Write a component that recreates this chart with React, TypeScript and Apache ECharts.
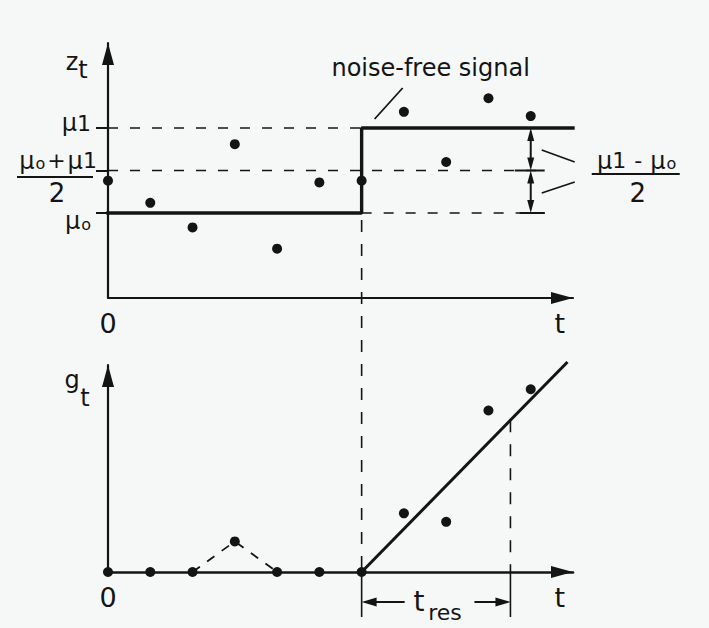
import React, { useEffect, useRef } from "react";
import * as echarts from "echarts";

// Sampling instants t = 0..10
const TIMES = [0, 1, 2, 3, 4, 5, 6, 7, 8, 9, 10];
// Noisy observations z_t (in units where mu0 = 0, mu1 = 1)
const Z_VALUES = [0.38, 0.12, -0.17, 0.81, -0.42, 0.36, 0.38, 1.19, 0.6, 1.35, 1.14];
// CUSUM statistic g_t
const G_VALUES = [0, 0, 0, 0.36, 0, 0, 0, 0.69, 0.59, 1.9, 2.15];

const MU0 = 0;
const MU1 = 1;
const MID = (MU0 + MU1) / 2;
const STEP_T = 6;
const T_MAX = 11;
const SIGNAL = [
  [0, MU0],
  [STEP_T, MU0],
  [STEP_T, MU1],
  [T_MAX, MU1],
];
// fitted growth of g_t after the change
const TREND = [
  [STEP_T, 0],
  [10.87, 2.47],
];
const ALARM_T = 9.52;
const SPREAD_T = 10;
const GUIDE_END_T = 10.33;

const X_LABEL_VALUES = [0, 10.69];
const X_LABELS = ["0", "t"];

const INK = "#141414";
const BG = "#f6f8f8";
const FONT = '"DejaVu Sans", "Liberation Sans", sans-serif';

// rich-text styles: mu with a small "o" or a regular "1" after it
const RICH = {
  m: { fontSize: 24, fontFamily: FONT, color: INK },
  n: { fontSize: 22, fontFamily: FONT, color: INK },
  o: { fontSize: 16, fontFamily: FONT, color: INK, verticalAlign: "bottom", padding: [0, 0, 1, 1] },
  p: { fontSize: 22, fontFamily: FONT, color: INK, padding: [0, 2, 0, 2] },
  q: { fontSize: 22, fontFamily: FONT, color: INK, padding: [0, 8, 0, 8] },
};

function trendAt(t: number): number {
  const [a, b] = TREND;
  return a[1] + ((t - a[0]) * (b[1] - a[1])) / (b[0] - a[0]);
}

export default function App() {
  const ref = useRef<HTMLDivElement>(null);

  useEffect(() => {
    document.body.style.margin = "0";
    document.body.style.background = BG;
    const chart = echarts.init(ref.current!, null, { renderer: "svg" });

    const arrowLine = {
      onZero: false,
      symbol: ["none", "triangle"],
      symbolSize: [12, 22],
      symbolOffset: [0, -11],
      lineStyle: { color: INK, width: 2.2 },
    };
    const xLabel = {
      customValues: X_LABEL_VALUES,
      formatter: (v: number) => X_LABELS[X_LABEL_VALUES.indexOf(v)] ?? "",
      fontSize: 27,
      fontFamily: FONT,
      color: INK,
      margin: 12,
    };
    const dashed = (data: number[][], xi: number, width = 1.6, dash = [10, 12]) => ({
      type: "line",
      xAxisIndex: xi,
      yAxisIndex: xi,
      data,
      showSymbol: false,
      silent: true,
      z: 1,
      lineStyle: { color: INK, width, type: dash },
    });
    const dots = (values: number[], xi: number) => ({
      type: "scatter",
      xAxisIndex: xi,
      yAxisIndex: xi,
      data: TIMES.map((t, i) => [t, values[i]]),
      symbolSize: 10,
      itemStyle: { color: INK, opacity: 1 },
      z: 5,
    });

    chart.setOption({
      animation: false,
      backgroundColor: BG,
      grid: [
        { left: 108, top: 43, width: 465, height: 255 },
        { left: 108, top: 365, width: 465, height: 207 },
      ],
      xAxis: [
        {
          type: "value",
          gridIndex: 0,
          min: 0,
          max: T_MAX,
          axisLine: arrowLine,
          axisTick: { show: false },
          splitLine: { show: false },
          axisLabel: xLabel,
        },
        {
          type: "value",
          gridIndex: 1,
          min: 0,
          max: T_MAX,
          axisLine: { ...arrowLine, lineStyle: { color: INK, width: 2.6 } },
          axisTick: { show: false },
          splitLine: { show: false },
          axisLabel: xLabel,
        },
      ],
      yAxis: [
        {
          type: "value",
          gridIndex: 0,
          min: -1,
          max: 2,
          axisLine: arrowLine,
          axisTick: {
            show: true,
            customValues: [MU0, MID, MU1],
            length: 12,
            lineStyle: { color: INK, width: 2 },
          },
          axisLabel: { show: false },
          splitLine: { show: false },
        },
        {
          type: "value",
          gridIndex: 1,
          min: 0,
          max: 2.435,
          axisLine: arrowLine,
          axisTick: { show: false },
          axisLabel: { show: false },
          splitLine: { show: false },
        },
      ],
      series: [
        dashed([[0, MU1], [STEP_T, MU1]], 0),
        dashed([[0, MID], [GUIDE_END_T, MID]], 0),
        dashed([[STEP_T, MU0], [GUIDE_END_T, MU0]], 0),
        {
          type: "line",
          name: "noise-free signal",
          xAxisIndex: 0,
          yAxisIndex: 0,
          data: SIGNAL,
          showSymbol: false,
          z: 2,
          lineStyle: { color: INK, width: 3.4, cap: "square" },
        },
        dots(Z_VALUES, 0),
        dashed([[2, G_VALUES[2]], [3, G_VALUES[3]], [4, G_VALUES[4]]], 1, 1.8, [9, 9]),
        {
          type: "line",
          xAxisIndex: 1,
          yAxisIndex: 1,
          data: TREND,
          showSymbol: false,
          clip: false,
          z: 2,
          lineStyle: { color: INK, width: 3 },
        },
        dots(G_VALUES, 1),
      ],
    });

    const p0 = (x: number, y: number) => chart.convertToPixel({ gridIndex: 0 }, [x, y]) as number[];
    const p1 = (x: number, y: number) => chart.convertToPixel({ gridIndex: 1 }, [x, y]) as number[];
    const seg = (x1: number, y1: number, x2: number, y2: number, w = 2, dash?: number[]) => ({
      type: "line",
      shape: { x1, y1, x2, y2 },
      style: { stroke: INK, lineWidth: w, lineDash: dash },
      silent: true,
    });
    const head = (tx: number, ty: number, dx: number, dy: number, len: number, half: number) => {
      // arrowhead with tip (tx, ty) pointing in direction (dx, dy)
      const bx = tx - dx * len;
      const by = ty - dy * len;
      return {
        type: "polygon",
        shape: {
          points: [
            [tx, ty],
            [bx - dy * half, by + dx * half],
            [bx + dy * half, by - dx * half],
          ],
        },
        style: { fill: INK },
        silent: true,
      };
    };
    const txt = (x: number, y: number, text: string, fontSize: number, align = "center") => ({
      type: "text",
      x,
      y,
      style: {
        text,
        fontSize,
        fontFamily: FONT,
        fill: INK,
        align,
        verticalAlign: "middle",
        rich: RICH,
      },
      silent: true,
    });

    const [stepX, topMu0Y] = p0(STEP_T, MU0);
    const [, topMu1Y] = p0(STEP_T, MU1);
    const [, topMidY] = p0(STEP_T, MID);
    const [axisX] = p0(0, 0);
    const [, baseY] = p1(STEP_T, 0);
    const [alarmX, alarmY] = p1(ALARM_T, trendAt(ALARM_T));
    const [spreadX] = p0(SPREAD_T, MU1);
    const [guideEndX] = p0(GUIDE_END_T, MU0);
    const resY = baseY + 30;

    const graphics: any[] = [
      // change-point guide running through both panels
      seg(stepX, topMu0Y + 7, stepX, baseY, 1.6, [12, 12]),
      seg(stepX, baseY, stepX, baseY + 45, 1.6),
      // alarm instant guide
      seg(alarmX, alarmY, alarmX, baseY, 1.6, [12, 12]),
      seg(alarmX, baseY, alarmX, baseY + 45, 1.6),
      // response-time arrows
      seg(stepX + 12, resY, stepX + 43, resY, 2),
      head(stepX, resY, -1, 0, 15, 4.5),
      seg(alarmX - 36, resY, alarmX - 12, resY, 2),
      head(alarmX, resY, 1, 0, 15, 4.5),
      txt((stepX + alarmX) / 2 - 17, resY - 1, "t", 28),
      txt((stepX + alarmX) / 2 + 9, resY + 10, "res", 22),
      // half-difference arrows
      seg(spreadX, topMu1Y + 6, spreadX, topMidY - 6, 2),
      head(spreadX, topMu1Y, 0, -1, 13, 3.5),
      head(spreadX, topMidY, 0, 1, 13, 3.5),
      seg(spreadX, topMidY + 6, spreadX, topMu0Y - 6, 2),
      head(spreadX, topMidY, 0, -1, 13, 3.5),
      head(spreadX, topMu0Y, 0, 1, 13, 3.5),
      seg(spreadX - 16, topMidY, guideEndX, topMidY, 2),
      seg(spreadX - 11, topMu0Y, guideEndX, topMu0Y, 2),
      seg(spreadX + 11, topMu1Y + 22, spreadX + 44, topMu1Y + 34, 1.8),
      seg(spreadX + 11, topMu0Y - 20, spreadX + 44, topMu0Y - 31, 1.8),
      txt(spreadX + 106, topMidY - 10, "{m|μ}{n|1}{q|-}{m|μ}{o|o}", 24),
      seg(spreadX + 61, topMidY + 3.5, spreadX + 149, topMidY + 3.5, 2),
      txt(spreadX + 107, topMidY + 22, "2", 26),
      // noise-free signal callout
      txt(stepX + 69, topMu1Y - 60, "noise-free signal", 24),
      seg(stepX + 13, topMu1Y - 9, stepX + 41, topMu1Y - 40, 1.8),
      // level labels on the z axis
      txt(axisX - 17, topMu1Y - 5, "{m|μ}{n|1}", 24, "right"),
      txt(axisX - 50, topMidY - 10, "{m|μ}{o|o}{p|+}{m|μ}{n|1}", 22),
      seg(axisX - 91, topMidY + 6.5, axisX - 15, topMidY + 6.5, 2),
      txt(axisX - 51, topMidY + 22, "2", 26),
      txt(axisX - 17, topMu0Y + 8, "{m|μ}{o|o}", 24, "right"),
      // axis names
      txt(axisX - 36, 62, "z", 24),
      txt(axisX - 25, 70, "t", 24),
      txt(axisX - 36, 380, "g", 24),
      txt(axisX - 23, 398, "t", 24),
    ];
    chart.setOption({ graphic: graphics });

    return () => chart.dispose();
  }, []);

  return <div ref={ref} style={{ width: 709, height: 628, background: BG }} />;
}
